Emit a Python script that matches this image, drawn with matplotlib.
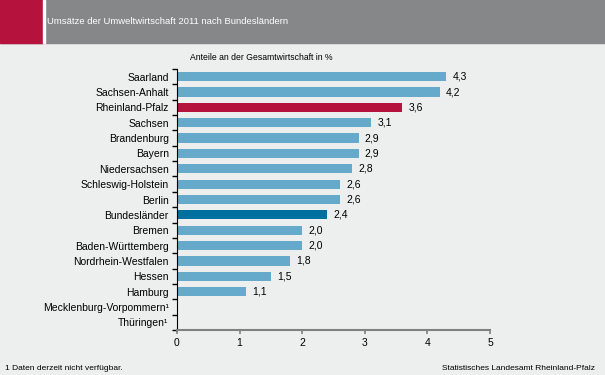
import matplotlib.pyplot as plt
from matplotlib.patches import Rectangle
from matplotlib.ticker import FixedLocator

plt.rcParams['font.family'] = ['Liberation Sans', 'DejaVu Sans']

laender = ['Saarland', 'Sachsen-Anhalt', 'Rheinland-Pfalz', 'Sachsen', 'Brandenburg',
           'Bayern', 'Niedersachsen', 'Schleswig-Holstein', 'Berlin', 'Bundesländer',
           'Bremen', 'Baden-Württemberg', 'Nordrhein-Westfalen', 'Hessen', 'Hamburg',
           'Mecklenburg-Vorpommern¹', 'Thüringen¹']
anteile = [4.3, 4.2, 3.6, 3.1, 2.9, 2.9, 2.8, 2.6, 2.6, 2.4, 2.0, 2.0, 1.8, 1.5, 1.1, None, None]

hell = '#66aacb'
farben = [hell] * len(laender)
farben[laender.index('Rheinland-Pfalz')] = '#b5123e'
farben[laender.index('Bundesländer')] = '#0070a0'

bg = '#edeeee'
fig = plt.figure(figsize=(6.05, 3.75), dpi=100, facecolor=bg)

# Kopfzeile
fig.patches.append(Rectangle((0, 1 - 43/375), 1, 43/375, transform=fig.transFigure,
                             color='#868788', zorder=0))
fig.patches.append(Rectangle((0, 1 - 43/375), 43/605, 43/375, transform=fig.transFigure,
                             color='#b5123e', zorder=1))
fig.patches.append(Rectangle((43/605, 1 - 43/375), 1.5/605, 43/375, transform=fig.transFigure,
                             color='white', zorder=1))
fig.text(47/605, 1 - 21/375, 'Umsätze der Umweltwirtschaft 2011 nach Bundesländern',
         color='white', fontsize=6.8, va='center', ha='left')
fig.text(261/605, 1 - 57/375, 'Anteile an der Gesamtwirtschaft in %',
         fontsize=6.2, va='center', ha='center')

ax = fig.add_axes([177/605, 1 - 330/375, 313/605, 261/375])
ax.set_facecolor(bg)
pos = list(range(len(laender)))
werte = [v if v is not None else 0 for v in anteile]
ax.barh(pos, werte, height=0.6, color=farben)
for p, v in zip(pos, anteile):
    if v is not None:
        ax.text(v + 0.1, p, f'{v:.1f}'.replace('.', ','), va='center', ha='left', fontsize=7.5)

ax.set_xlim(0, 5)
ax.set_ylim(len(laender) - 0.5, -0.5)
ax.set_yticks(pos)
ax.set_yticklabels(laender, fontsize=7.5)
ax.yaxis.set_minor_locator(FixedLocator([p - 0.5 for p in pos] + [len(laender) - 0.5]))
ax.tick_params(axis='y', which='major', length=0, pad=6)
ax.tick_params(axis='y', which='minor', length=3.5, width=1, color='black')
ax.set_xticks(range(6))
ax.tick_params(axis='x', length=3, width=1.2, color='#808080', labelsize=7.5, pad=3)
for s in ['top', 'right']:
    ax.spines[s].set_visible(False)
ax.spines['left'].set_color('black')
ax.spines['bottom'].set_color('#808080')
ax.spines['bottom'].set_linewidth(1.5)

fig.text(5/605, 1 - 369/375, '1 Daten derzeit nicht verfügbar.', fontsize=6, va='center')
fig.text(595/605, 1 - 369/375, 'Statistisches Landesamt Rheinland-Pfalz', fontsize=6,
         va='center', ha='right')

fig.savefig('out.png', dpi=100, facecolor=bg)
